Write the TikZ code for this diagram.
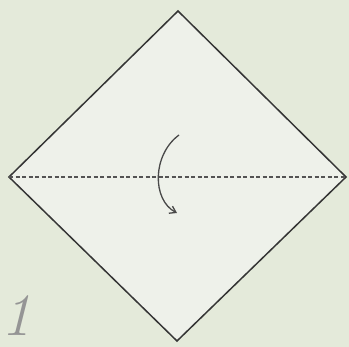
\documentclass[tikz,border=0pt]{standalone}
\usetikzlibrary{arrows.meta}
\definecolor{bgc}{HTML}{E4EADA}
\definecolor{paper}{HTML}{EEF1EA}
\definecolor{edge}{HTML}{353535}
\definecolor{numc}{HTML}{959595}
\tikzset{
  sheet/.style={draw=edge, fill=paper, line width=1.5pt, line join=miter},
  valley/.style={draw=edge!85, dashed, dash pattern=on 4pt off 2.5pt, line width=1.3pt},
  foldarrow/.style={draw=edge!90, line width=1.3pt, -{Straight Barb[length=6pt,width=8pt]}},
  stepnum/.style={text=numc, font=\fontsize{60}{60}\selectfont\itshape, inner sep=0pt, anchor=base west}
}
\begin{document}
\begin{tikzpicture}[x=1pt,y=-1pt]
\fill[bgc] (0,0) rectangle (349,347);
\useasboundingbox (0,0) rectangle (349,347);
\coordinate (T) at (178,11);
\coordinate (L) at (9,177);
\coordinate (R) at (346,177);
\coordinate (B) at (177,341);
\path[sheet] (T) -- (R) -- (B) -- (L) -- cycle;
\draw[valley] (L) -- (R);
\coordinate (a0) at (179,135);
\coordinate (a1) at (177,213);
\draw[foldarrow] (a0) .. controls (152,155) and (152,200) .. (a1);
\node[stepnum] (n1) at (1,336) {1};
\end{tikzpicture}
\end{document}
